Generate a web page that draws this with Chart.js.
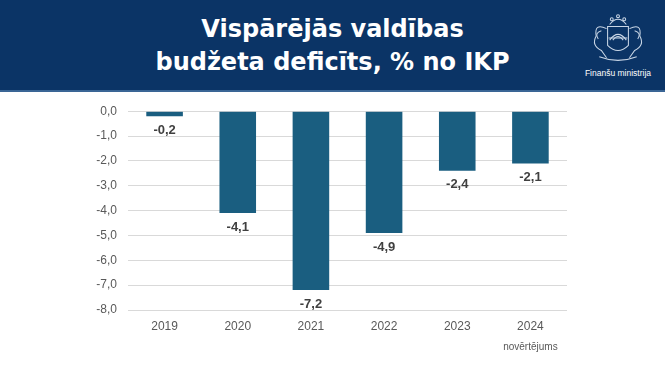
<!DOCTYPE html>
<html>
<head>
<meta charset="utf-8">
<script src="https://cdn.jsdelivr.net/npm/chart.js@4"></script>
<style>
  html, body { margin:0; padding:0; background:#fff; }
  body { width:665px; height:375px; position:relative; overflow:hidden; font-family:"Liberation Sans", Arial, sans-serif; }
  #head { position:absolute; left:0; top:0; width:665px; height:90px; background:#0b3466; border-bottom:2px solid #3a6595; z-index:2; }
  #title { position:absolute; left:0; width:665px; top:13px; text-align:center; color:#fff;
    font-family:"DejaVu Sans", Verdana, sans-serif; font-weight:bold; font-size:24px; line-height:33px; }
  #logo { position:absolute; left:578px; top:12px; width:80px; height:72px; text-align:center; }
  #logo span { display:block; color:#fff; font-size:8.5px; margin-top:0px; }
  #wrap { position:absolute; left:0; top:93px; width:665px; height:282px; }
</style>
</head>
<body>
<div id="head">
  <div id="title">Vispārējās valdības<br>budžeta deficīts, % no IKP</div>
  <div id="logo">
    <svg width="66" height="52" viewBox="0 2 60 50" fill="none" stroke="#c9d6e6" stroke-width="1">
      <path d="M20 16 L40 16 L40 34 Q30 44 20 34 Z"/>
      <path d="M22 29 Q30 18 38 29"/>
      <path d="M25 29 Q30 22 35 29"/>
      <path d="M21 27 L39 27"/>
      <path d="M22 14 Q30 4 38 14"/>
      <circle cx="24" cy="9" r="1.4"/><circle cx="30" cy="6" r="1.4"/><circle cx="36" cy="9" r="1.4"/>
      <path d="M19 18 Q7 12 9 25 Q4 34 14 39 L19 46"/>
      <path d="M14 20 Q7 22 11 28"/>
      <path d="M41 18 Q53 12 51 25 Q56 34 46 39 L41 46"/>
      <path d="M46 20 Q53 22 49 28"/>
      <path d="M12 45 Q30 52 48 45"/>
    </svg>
    <span>Finanšu ministrija</span>
  </div>
</div>
<div id="wrap"><canvas id="c" width="665" height="282"></canvas></div>
<script>
const years = ['2019', '2020', '2021', '2022', '2023', '2024'];
const deficit = [-0.2, -4.1, -7.2, -4.9, -2.4, -2.1];
const yearNotes = ['', '', '', '', '', 'novērtējums'];
const yMin = -8, yMax = 0;

const fmt = v => v.toFixed(1).replace('.', ',');

const labelPlugin = {
  id: 'barLabels',
  afterDatasetsDraw(chart) {
    const ctx = chart.ctx;
    const meta = chart.getDatasetMeta(0);
    ctx.save();
    ctx.font = 'bold 13px "Liberation Sans", Arial, sans-serif';
    ctx.fillStyle = '#404040';
    ctx.textAlign = 'center';
    ctx.textBaseline = 'middle';
    meta.data.forEach((bar, i) => {
      ctx.fillText(fmt(deficit[i]), bar.x, bar.y + 14);
    });
    // sub note under x labels
    const xs = chart.scales.x;
    ctx.font = '10px "Liberation Sans", Arial, sans-serif';
    ctx.fillStyle = '#595959';
    yearNotes.forEach((n, i) => {
      if (n) ctx.fillText(n, xs.getPixelForValue(i), xs.top + 37);
    });
    ctx.restore();
  }
};

new Chart(document.getElementById('c'), {
  type: 'bar',
  data: {
    labels: years,
    datasets: [{
      data: deficit,
      backgroundColor: '#1a5e80',
      borderWidth: 0,
      barPercentage: 0.5,
      categoryPercentage: 1.0
    }]
  },
  options: {
    responsive: false,
    animation: false,
    layout: { padding: { top: 14, right: 98, bottom: 0, left: 0 } },
    plugins: { legend: { display: false }, tooltip: { enabled: false } },
    scales: {
      x: {
        grid: { display: false, drawTicks: false },
        border: { display: false },
        ticks: { color: '#595959', font: { size: 12, family: '"Liberation Sans", Arial, sans-serif' }, padding: 9 },
        afterFit(s) { s.height = 65; }
      },
      y: {
        min: yMin, max: yMax,
        grid: { color: '#d9d9d9', drawTicks: false },
        border: { display: false },
        ticks: { stepSize: 1, color: '#595959', padding: 11,
          font: { size: 12, family: '"Liberation Sans", Arial, sans-serif' },
          callback: v => fmt(v) },
        afterFit(s) { s.width = 128; }
      }
    }
  },
  plugins: [labelPlugin]
});
</script>
</body>
</html>
